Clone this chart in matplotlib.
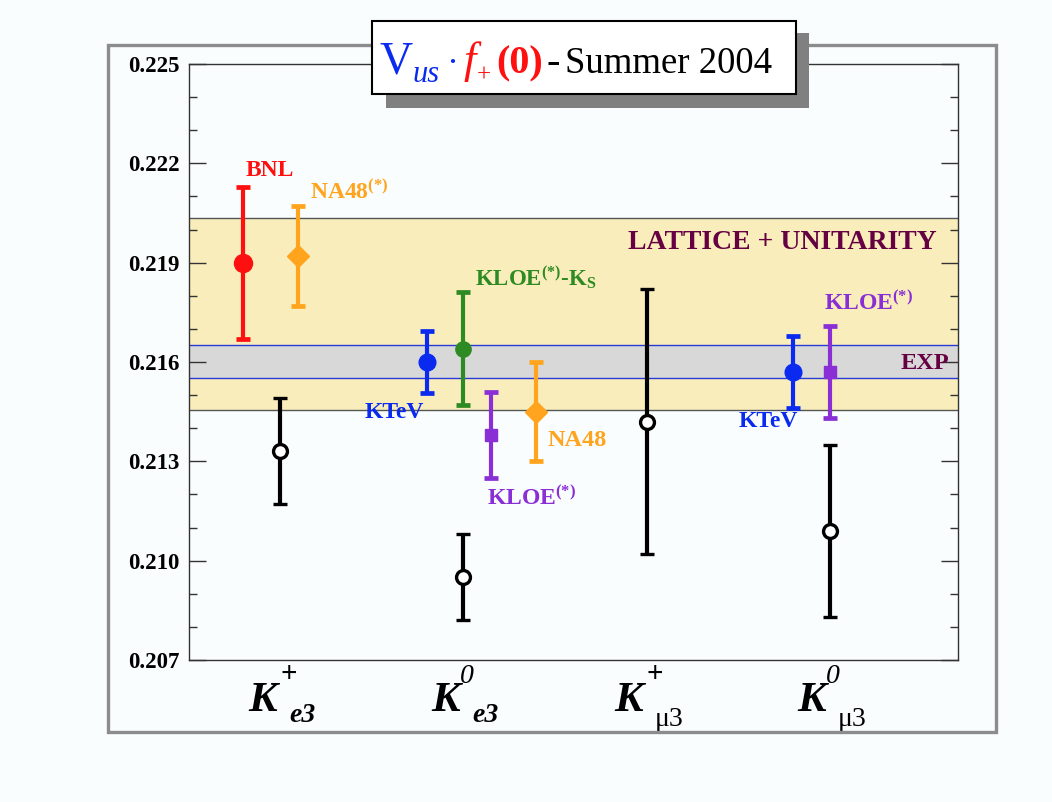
import matplotlib

matplotlib.use("Agg")
import matplotlib.pyplot as plt
from matplotlib.patches import Rectangle
from matplotlib.ticker import MultipleLocator, FixedLocator

plt.rcParams["font.family"] = ["Liberation Serif", "DejaVu Serif"]
plt.rcParams["mathtext.fontset"] = "custom"
plt.rcParams["mathtext.rm"] = "Liberation Serif:bold"
plt.rcParams["mathtext.bf"] = "Liberation Serif:bold"
plt.rcParams["mathtext.it"] = "Liberation Serif:italic:bold"

W, H = 1052, 802
BG = "#f9fdfd"

RED = "#ff1010"
ORANGE = "#ffa41c"
BLUE = "#0a2af0"
GREEN = "#2e8a22"
PURPLE = "#8a2ed6"
MAROON = "#650042"

# data -----------------------------------------------------------------
CAT_SUP = ["+", "0", "+", "0"]
CAT_SUB = ["e3", "e3", "\u03bc3", "\u03bc3"]

# experimental measurements (coloured points)
MEAS_CAT = [0, 0, 1, 1, 1, 1, 3, 3]
MEAS_OFFSET = [-0.20, 0.10, -0.196, 0.0, 0.151, 0.397, -0.20, 0.0]
MEAS_VALUE = [0.2190, 0.2192, 0.2160, 0.2164, 0.2138, 0.2145, 0.2157, 0.2157]
MEAS_ERROR = [0.0023, 0.0015, 0.00094, 0.0017, 0.0013, 0.0015, 0.0011, 0.0014]
MEAS_COLOR = [RED, ORANGE, BLUE, GREEN, PURPLE, ORANGE, BLUE, PURPLE]
MEAS_MARKER = ["o", "D", "o", "o", "s", "D", "o", "s"]
MEAS_MSIZE = [13, 11, 12, 11, 9, 11, 12, 9]

# open black points
OPEN_CAT = [0, 1, 2, 3]
OPEN_VALUE = [0.2133, 0.2095, 0.2142, 0.2109]
OPEN_ERROR = [0.0016, 0.0013, 0.0040, 0.0026]

LATTICE_BAND = (0.21456, 0.22036)
EXP_BAND = (0.21553, 0.21651)

# labels: text, x (data), y (data), colour
LABEL_TEXT = ["BNL", r"NA48$^{(*)}$", r"KLOE$^{(*)}$-K$_\mathrm{S}$", "KTeV",
              r"KLOE$^{(*)}$", "NA48", "KTeV", r"KLOE$^{(*)}$",
              "LATTICE + UNITARITY", "EXP"]
LABEL_X = [-0.19, 0.164, 1.064, 0.464, 1.131, 1.459, 2.50, 2.97, 1.90, 3.385]
LABEL_Y = [0.22177, 0.22113, 0.21856, 0.21446, 0.21189, 0.21364, 0.21419,
           0.21778, 0.21962, 0.21594]
LABEL_COLOR = [RED, ORANGE, GREEN, BLUE, PURPLE, ORANGE, BLUE, PURPLE,
               MAROON, MAROON]
LABEL_SIZE = [17, 17, 16.5, 17, 17, 17.5, 17, 17, 20, 17.5]

fig = plt.figure(figsize=(W / 100, H / 100), dpi=100, facecolor=BG)


def fx(px):
    return px / W


def fy(py):
    return 1 - py / H


ax = fig.add_axes([fx(189), fy(660), fx(958) - fx(189), fy(64) - fy(660)])
ax.set_facecolor(BG)
ax.set_xlim(-0.4965, 3.699)
ax.set_ylim(0.207, 0.225)

ax.axhspan(*LATTICE_BAND, color="#f9eebb", zorder=0, lw=0)
for yv in LATTICE_BAND:
    ax.axhline(yv, color="#555555", lw=1.0, zorder=1)
ax.axhspan(*EXP_BAND, color="#d8d8d8", zorder=1, lw=0)
for yv in EXP_BAND:
    ax.axhline(yv, color="#2a3ad8", lw=1.0, zorder=2)

for c, off, v, e, col, m, ms in zip(MEAS_CAT, MEAS_OFFSET, MEAS_VALUE, MEAS_ERROR,
                                     MEAS_COLOR, MEAS_MARKER, MEAS_MSIZE):
    ax.errorbar(c + off, v, yerr=e, fmt=m, color=col, ms=ms, mec=col,
                elinewidth=3.0, capsize=5, capthick=3.4, zorder=4)

ax.errorbar(OPEN_CAT, OPEN_VALUE, yerr=OPEN_ERROR, fmt="o", color="black",
            mfc="white", mec="black", mew=2.4, ms=10, elinewidth=3.0,
            capsize=5, capthick=3.4, zorder=4)

for t, x, y, col, s in zip(LABEL_TEXT, LABEL_X, LABEL_Y, LABEL_COLOR, LABEL_SIZE):
    ax.text(x, y, t, color=col, fontsize=s, fontweight="bold", ha="left",
            va="center", zorder=5)

# axes styling
ax.yaxis.set_major_locator(FixedLocator([0.207, 0.210, 0.213, 0.216, 0.219, 0.222, 0.225]))
ax.yaxis.set_minor_locator(MultipleLocator(0.001))
ax.yaxis.set_major_formatter(matplotlib.ticker.FormatStrFormatter("%.3f"))
ax.tick_params(axis="y", which="both", direction="in", left=True, right=True,
               color="#333333", width=1.0, labelsize=16.5, pad=7)
ax.tick_params(axis="y", which="major", length=12)
ax.tick_params(axis="y", which="minor", length=6)
for lab in ax.get_yticklabels():
    lab.set_fontweight("bold")
ax.set_xticks([])
for sp in ax.spines.values():
    sp.set_color("#333333")
    sp.set_linewidth(1.0)

# category labels below the axis
xt = ax.get_xaxis_transform()
for i, (sup, sub) in enumerate(zip(CAT_SUP, CAT_SUB)):
    ax.text(i - 0.175, -0.086, "K", transform=xt, fontsize=31, fontweight="bold",
            fontstyle="italic", ha="left", va="baseline")
    if sup == "+":
        ax.text(i - 0.0, -0.025, sup, transform=xt, fontsize=21,
                fontweight="bold", ha="left", va="center")
    else:
        ax.text(i - 0.02, -0.027, sup, transform=xt, fontsize=20,
                fontstyle="italic", ha="left", va="center")
    if sub == "e3":
        ax.text(i + 0.05, -0.104, sub, transform=xt, fontsize=20,
                fontweight="bold", fontstyle="italic", ha="left", va="baseline")
    else:
        ax.text(i + 0.045, -0.11, sub, transform=xt, fontsize=20,
                ha="left", va="baseline")

# outer grey frame
fig.add_artist(Rectangle((fx(108), fy(732)), fx(996) - fx(108), fy(45) - fy(732),
                         transform=fig.transFigure, fill=False,
                         edgecolor="#8c8c8c", lw=2.4, zorder=0.5))

# title box with shadow
fig.add_artist(Rectangle((fx(386), fy(108)), fx(809) - fx(386), fy(33) - fy(108),
                         transform=fig.transFigure, facecolor="#808080",
                         edgecolor="none", zorder=5))
fig.add_artist(Rectangle((fx(372), fy(94)), fx(796) - fx(372), fy(21) - fy(94),
                         transform=fig.transFigure, facecolor="white",
                         edgecolor="black", lw=1.5, zorder=6))

renderer = fig.canvas.get_renderer()
title_parts = [
    ("V", BLUE, 33, "normal", "normal", 0, 0),
    ("us", BLUE, 22, "normal", "italic", -1, -9),
    ("\u00b7", BLUE, 26, "normal", "normal", 7, 0),
    ("f", RED, 32, "normal", "italic", 5, 0),
    ("+", RED, 18, "normal", "normal", 1, -9),
    ("(0)", RED, 29, "bold", "normal", 6, 0),
    ("-", "black", 29, "normal", "normal", 3, 0),
    ("Summer 2004", "black", 26.5, "normal", "normal", 5, 0),
]
xpos = 380
base = 73
for txt, col, size, weight, style, gap, dy in title_parts:
    xpos += gap
    t = fig.text(fx(xpos), fy(base - dy), txt, color=col, fontsize=size,
                 fontweight=weight, fontstyle=style, ha="left", va="baseline",
                 zorder=7)
    bb = t.get_window_extent(renderer)
    xpos += bb.width

fig.savefig("out.png", dpi=100, facecolor=BG)
